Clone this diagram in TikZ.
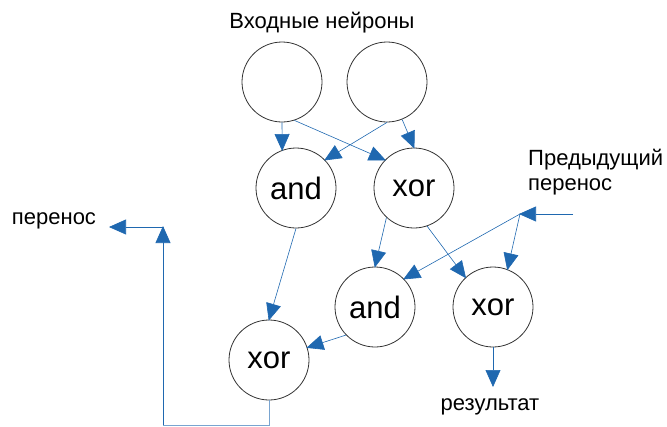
\documentclass[tikz,border=0pt]{standalone}
\usepackage{fontspec}
\setmainfont{Liberation Sans}
\usetikzlibrary{arrows.meta}
\definecolor{linkblue}{RGB}{31,104,176}
\tikzset{
    neuron/.style = {circle, draw = black!80, line width = 0.8pt, minimum size = 80pt, inner sep = 0pt, font = \fontsize{31}{36}\selectfont},
    link/.style = {draw = linkblue, line width = 0.6pt, -{Triangle[length = 17pt, width = 15pt]}, shorten >= -1pt},
    wire/.style = {draw = linkblue!60, line width = 1pt},
    caption/.style = {font = \fontsize{22}{25}\selectfont, inner sep = 0pt}
}
\begin{document}
\begin{tikzpicture}[x = 1pt, y = -1pt]
        \useasboundingbox (0, 0) rectangle (667, 426);
        \node[neuron] (in1) at (282, 82) {};
        \node[neuron] (in2) at (387, 82) {};
        \node[neuron] (and1) at (296, 188) {and};
        \node[neuron] (xor1) at (414, 188) {xor};
        \node[neuron] (and2) at (375, 307) {and};
        \node[neuron] (xor2) at (493, 307) {xor};
        \node[neuron] (xor3) at (269, 360) {xor};
        \coordinate (cin) at (573, 214);
        \coordinate (C) at (520, 214);
        \coordinate (S) at (493, 386);
        \coordinate (B) at (269, 425);
        \coordinate (B') at (163, 425);
        \coordinate (U) at (163, 227);
        \coordinate (cout) at (110, 227);
        \draw[link] (in1.south) -- (and1.110);
        \draw[link] (in1.-72) -- (xor1.136);
        \draw[link] (in2.south) -- (and1.44);
        \draw[link] (in2.-68) -- (xor1.north);
        \draw[link] (and1.south) -- (xor3.north);
        \draw[link] (xor1.-133) -- (and2.north);
        \draw[link] (xor1.-71) -- (xor2.133);
        \draw[link] (cin) -- (C);
        \draw[link] (C) -- (and2.44);
        \draw[link] (C) -- (xor2.69);
        \draw[link] (and2.-136) -- (xor3.18);
        \draw[link] (xor2.south) -- (S);
        \draw[wire] (xor3.south) -- (B) -- (B') -- (U);
        \draw[link] (B') -- (U);
        \draw[link] (U) -- (cout);
        \node[caption] (top) at (322, 23) {Входные нейроны};
        \node[caption, align = left, anchor = base west] (prev) at (528, 190) {Предыдущий\\перенос};
        \node[caption] (sum) at (490, 407) {результат};
        \node[caption] (carry) at (54, 221) {перенос};
    \end{tikzpicture}
\end{document}
